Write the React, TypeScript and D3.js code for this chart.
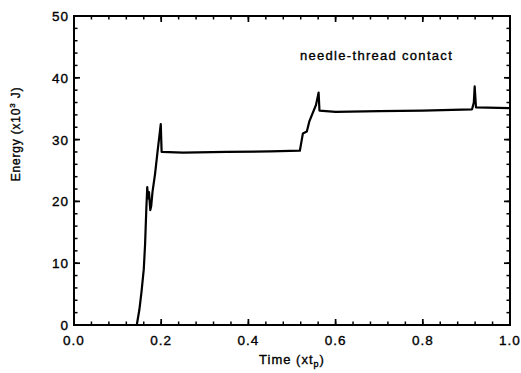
import React from "react";
import * as d3 from "d3";

const timeValues = [
  0, 0.144, 0.150, 0.155, 0.160, 0.163, 0.166, 0.168, 0.170, 0.172, 0.175, 0.177,
  0.180, 0.186, 0.192, 0.196, 0.199, 0.201, 0.25, 0.35, 0.45, 0.518, 0.522, 0.525,
  0.534, 0.540, 0.555, 0.561, 0.563, 0.6, 0.7, 0.8, 0.913, 0.917, 0.919, 0.922, 1.0,
];
const energyValues = [
  0, 0, 2.5, 5.5, 9, 13, 19, 22.3, 20.5, 21.5, 18.6, 19.2,
  21.5, 24.5, 28.3, 30.7, 32.5, 28.0, 27.9, 28.0, 28.1, 28.2, 29.8, 31.0,
  31.3, 33.0, 35.6, 37.6, 34.7, 34.5, 34.6, 34.7, 34.9, 36.0, 38.6, 35.2, 35.1,
];
const xTickValues = [0, 0.2, 0.4, 0.6, 0.8, 1.0];
const xTickLabels = ["0.0", "0.2", "0.4", "0.6", "0.8", "1.0"];
const yTickValues = [0, 10, 20, 30, 40, 50];
const yTickLabels = ["0", "10", "20", "30", "40", "50"];
const annotationText = "needle-thread contact";

const W = 521;
const H = 373;
const L = 74, R = 510, T = 16, B = 325;
const FONT = "'Liberation Sans', Arial, Helvetica, sans-serif";

export default function App() {
  const x = d3.scaleLinear().domain([0, 1]).range([L, R]);
  const y = d3.scaleLinear().domain([0, 50]).range([B, T]);
  const pts: [number, number][] = timeValues.map((t, i) => [t, energyValues[i]]);
  const line = d3
    .line<[number, number]>()
    .x((d) => x(d[0]))
    .y((d) => y(d[1]));
  const xMinor = d3.range(0, 1.0001, 0.04);
  const yMinor = d3.range(0, 50.001, 2);
  const maj = 6;
  const mn = 3.5;
  const textStyle = { stroke: "#000", strokeWidth: 0.35 };

  return (
    <svg
      width={W}
      height={H}
      style={{ position: "absolute", left: 0, top: 0, background: "#fff" }}
      fontFamily={FONT}
    >
      <rect x={0} y={0} width={W} height={H} fill="#fff" />
      <path d={line(pts) || ""} fill="none" stroke="#000" strokeWidth={2.2} strokeLinejoin="round" />
      <rect x={L} y={T} width={R - L} height={B - T} fill="none" stroke="#000" strokeWidth={2} />
      {xMinor.map((v, i) => (
        <g key={"xm" + i}>
          <line x1={x(v)} x2={x(v)} y1={B} y2={B - mn} stroke="#000" strokeWidth={1.5} />
          <line x1={x(v)} x2={x(v)} y1={T} y2={T + mn} stroke="#000" strokeWidth={1.5} />
        </g>
      ))}
      {xTickValues.map((v, i) => (
        <g key={"xM" + i}>
          <line x1={x(v)} x2={x(v)} y1={B} y2={B - maj} stroke="#000" strokeWidth={1.7} />
          <line x1={x(v)} x2={x(v)} y1={T} y2={T + maj} stroke="#000" strokeWidth={1.7} />
          <text x={x(v)} y={345} textAnchor="middle" fontSize={13.5} letterSpacing={1} fill="#000" style={textStyle}>
            {xTickLabels[i]}
          </text>
        </g>
      ))}
      {yMinor.map((v, i) => (
        <g key={"ym" + i}>
          <line x1={L} x2={L + mn} y1={y(v)} y2={y(v)} stroke="#000" strokeWidth={1.5} />
          <line x1={R} x2={R - mn} y1={y(v)} y2={y(v)} stroke="#000" strokeWidth={1.5} />
        </g>
      ))}
      {yTickValues.map((v, i) => (
        <g key={"yM" + i}>
          <line x1={L} x2={L + maj} y1={y(v)} y2={y(v)} stroke="#000" strokeWidth={1.7} />
          <line x1={R} x2={R - maj} y1={y(v)} y2={y(v)} stroke="#000" strokeWidth={1.7} />
          <text x={69} y={y(v) + 5} textAnchor="end" fontSize={13.5} letterSpacing={1} fill="#000" style={textStyle}>
            {yTickLabels[i]}
          </text>
        </g>
      ))}
      <text x={292} y={364} textAnchor="middle" fontSize={13} letterSpacing={1} fill="#000" style={textStyle}>
        Time (xt<tspan fontSize={9} dy={3}>p</tspan>
        <tspan dy={-3}>)</tspan>
      </text>
      <text
        transform="translate(20,134) rotate(-90)"
        textAnchor="middle"
        fontSize={12}
        letterSpacing={0.8}
        fill="#000"
        style={textStyle}
      >
        Energy (x10<tspan fontSize={8} dy={-5}>3</tspan>
        <tspan dy={5}> J)</tspan>
      </text>
      <text x={300} y={60} fontSize={13} letterSpacing={1.3} fill="#000" style={textStyle}>
        {annotationText}
      </text>
    </svg>
  );
}
